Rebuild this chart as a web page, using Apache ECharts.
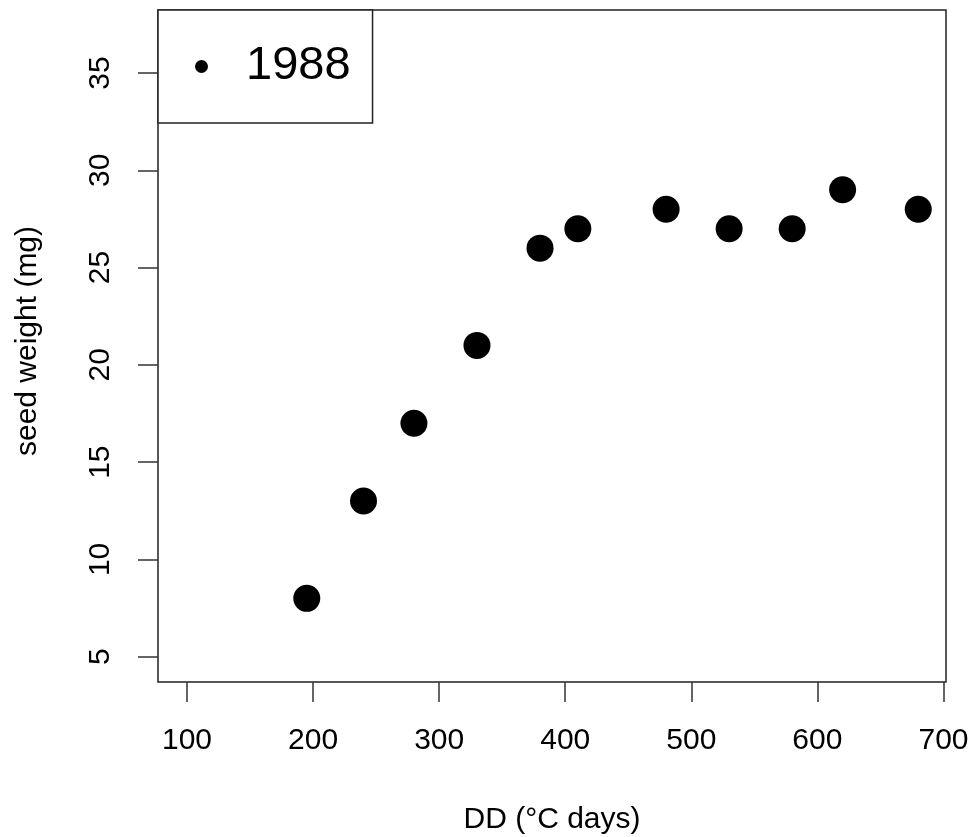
<!DOCTYPE html>
<html>
<head>
<meta charset="utf-8">
<script src="https://cdn.jsdelivr.net/npm/echarts@6/dist/echarts.min.js"></script>
<style>html,body{margin:0;padding:0;background:#fff}#c{width:974px;height:837px}</style>
</head>
<body>
<div id="c"></div>
<script>
const seriesName = '1988';
const ddValues = [195, 240, 280, 330, 380, 410, 480, 530, 580, 620, 680];
const seedWeights = [8, 13, 17, 21, 26, 27, 28, 27, 27, 29, 28];
const xTicks = [100, 200, 300, 400, 500, 600, 700];
const yTicks = [5, 10, 15, 20, 25, 30, 35];

const chart = echarts.init(document.getElementById('c'), null, {renderer: 'canvas'});
const font = 'Liberation Sans, Arial, sans-serif';
chart.setOption({
  animation: false,
  backgroundColor: '#fff',
  grid: {left: 158, right: 28, top: 10, bottom: 155, outerBoundsMode: 'none', containLabel: false, show: true, borderColor: '#222', borderWidth: 1.5, backgroundColor: 'transparent'},
  legend: {
    left: 158, top: 10,
    orient: 'vertical',
    data: [{name: seriesName, icon: 'circle', itemStyle: {color: '#000', opacity: 1}}],
    itemWidth: 13, itemHeight: 13,
    padding: [33, 22, 33, 37],
    borderColor: '#222', borderWidth: 1.5, borderRadius: 0,
    backgroundColor: '#fff',
    textStyle: {fontFamily: font, fontSize: 47, color: '#000', padding: [0, 0, 0, 33]},
    selectedMode: false
  },
  xAxis: {
    type: 'value', min: 77, max: 702,
    name: 'DD (°C days)', nameLocation: 'middle', nameGap: 123,
    nameTextStyle: {fontFamily: font, fontSize: 30, color: '#000'},
    axisLine: {show: false},
    axisTick: {show: true, length: 20, customValues: xTicks, lineStyle: {color: '#333', width: 1.5}},
    axisLabel: {customValues: xTicks, fontFamily: font, fontSize: 30, color: '#000', margin: 44},
    splitLine: {show: false}
  },
  yAxis: {
    type: 'value', min: 3.7, max: 38.24,
    name: 'seed weight (mg)', nameLocation: 'middle', nameGap: 115,
    nameTextStyle: {fontFamily: font, fontSize: 30, color: '#000', padding: [0, 0, 0, 10]},
    axisLine: {show: false},
    axisTick: {show: true, length: 20, customValues: yTicks, lineStyle: {color: '#333', width: 1.5}},
    axisLabel: {customValues: yTicks, rotate: 90, fontFamily: font, fontSize: 30, color: '#000', margin: 42},
    splitLine: {show: false}
  },
  series: [{
    name: seriesName,
    type: 'scatter',
    data: ddValues.map((x, i) => [x, seedWeights[i]]),
    symbol: 'circle',
    symbolSize: 27,
    itemStyle: {color: '#000', opacity: 1}
  }]
});
</script>
</body>
</html>
